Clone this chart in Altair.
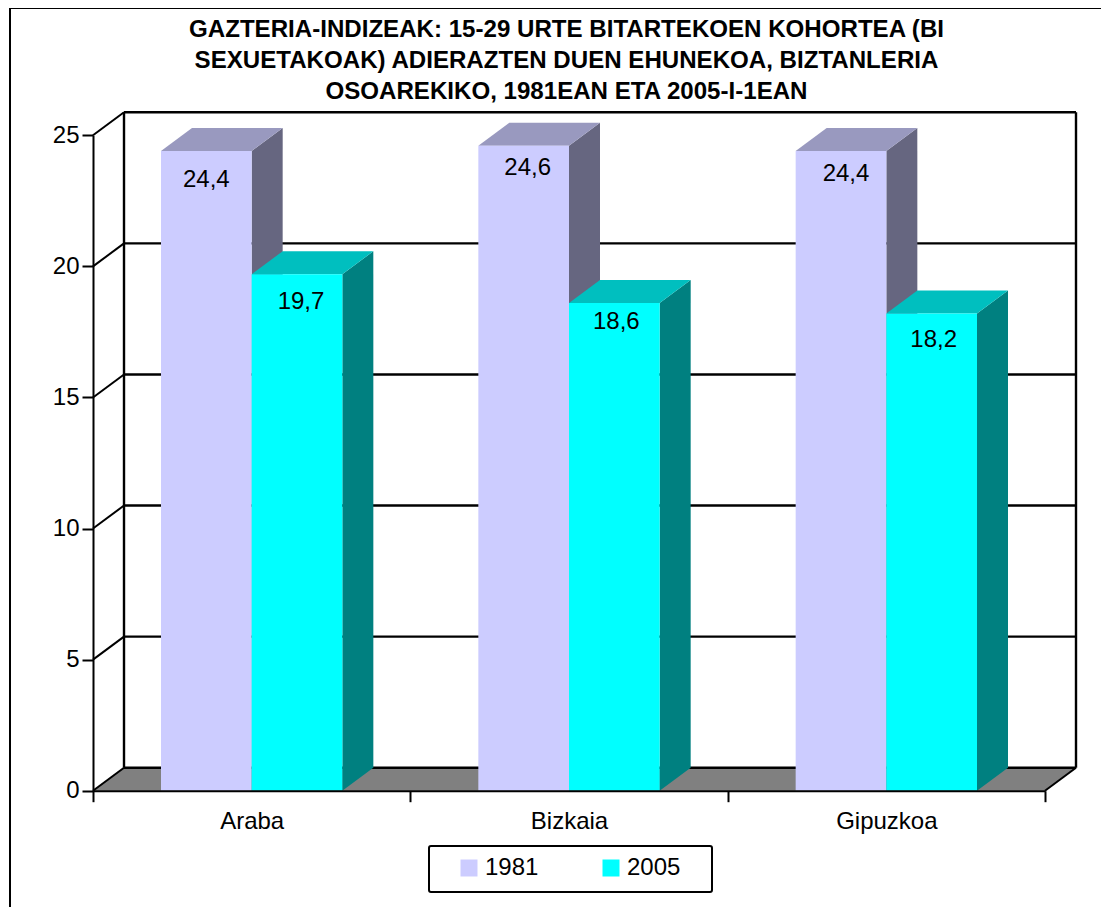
import altair as alt
import pandas as pd

# ---- values ----
CATEGORIES = ["Araba", "Bizkaia", "Gipuzkoa"]
YEARS = ["1981", "2005"]
VALUES_1981 = [24.4, 24.6, 24.4]
VALUES_2005 = [19.7, 18.6, 18.2]
Y_TICKS = [0, 5, 10, 15, 20, 25]
TITLE_LINES = [
    "GAZTERIA-INDIZEAK: 15-29 URTE BITARTEKOEN KOHORTEA (BI",
    "SEXUETAKOAK) ADIERAZTEN DUEN EHUNEKOA, BIZTANLERIA",
    "OSOAREKIKO, 1981EAN ETA 2005-I-1EAN",
]
FONT = "Liberation Sans"
FRONT = ["#CCCCFF", "#00FFFF"]
TOP = ["#9999BF", "#00BFBF"]
SIDE = ["#666680", "#008080"]

# ---- layout ----
W, H = 1093, 899
X0, X3 = 85, 1037
Y0, Y25 = 782.7, 127.3
DX, DY = 0.0977, 0.878      # depth of the 3-D box in data units
BAR = 1 / 3.5
GAP = 0.5 - BAR
LABEL_NUDGE = {  # (dx, dy) px of each data label from the bar's top centre
    "1981": [(0, 29), (4, 22), (5, 23)],
    "2005": [(4, 28), (2, 19), (2, 26)],
}
FS = 24

xs = alt.Scale(domain=[0, 3], range=[X0, X3], nice=False, zero=False)
ys = alt.Scale(domain=[0, 25], range=[Y0, Y25], nice=False, zero=False)

cat_expr = "[" + ",".join(f"'{c}'" for c in CATEGORIES) + "][floor(datum.value)]"
AX_X = alt.Axis(
    values=[0, 0.5, 1, 1.5, 2, 2.5, 3],
    labelExpr=f"datum.value % 1 == 0 ? '' : {cat_expr}",
    tickOpacity={"condition": {"test": "datum.value % 1 == 0", "value": 1}, "value": 0},
    tickSize=11,
    tickWidth=2,
    tickColor="black",
    domainColor="black",
    domainWidth=2,
    labelFont=FONT,
    labelFontSize=FS,
    labelColor="black",
    labelPadding=8,
    offset=-(H - Y0),
    grid=False,
    zindex=1,
    labelOverlap=False,
    labelFlush=False,
)
AX_Y = alt.Axis(
    values=Y_TICKS,
    tickSize=11,
    tickWidth=2,
    tickColor="black",
    domainColor="black",
    domainWidth=2,
    labelFont=FONT,
    labelFontSize=FS,
    labelColor="black",
    labelPadding=3,
    offset=-X0,
    grid=False,
    zindex=1,
)


def X(f="x"):
    return alt.X(f"{f}:Q", scale=xs, axis=AX_X, title=None)


def Y(f="y"):
    return alt.Y(f"{f}:Q", scale=ys, axis=AX_Y, title=None)


def rule(rows, width=2):
    df = pd.DataFrame(rows, columns=["x", "x2", "y", "y2", "id"])
    return (
        alt.Chart(df)
        .mark_rule(color="black", strokeWidth=width)
        .encode(x=X(), x2="x2:Q", y=Y(), y2="y2:Q")
    )


# floor
floor = pd.DataFrame(
    {"x": [0, DX, 3, 3 + DX], "y": [0, DY, DY, DY], "y2": [0, 0, 0, DY]}
)
layers = [
    alt.Chart(floor)
    .mark_area(color="#808080", orient="vertical", opacity=1)
    .encode(x=X(), y=Y(), y2="y2:Q")
]

# walls and grid lines
back = [(DX, 3 + DX, t + DY, t + DY, t) for t in Y_TICKS]
left = [(0, DX, t, t + DY, t) for t in Y_TICKS]
verts = [
    (DX, DX, DY, 25 + DY, 0),
    (3 + DX, 3 + DX, DY, 25 + DY, 1),
]
floor_edge = [(3, 3 + DX, 0, DY, 2)]
layers += [rule(back, 2.4), rule(left), rule(verts, 2.4), rule(floor_edge)]

# bars
for s, (year, vals) in enumerate(zip(YEARS, [VALUES_1981, VALUES_2005])):
    side_rows, top_rows, front_rows = [], [], []
    for i, v in enumerate(vals):
        x0 = i + GAP + s * BAR
        x1 = x0 + BAR
        side_rows += [
            dict(x=x1, y=v, y2=0, bar=i),
            dict(x=x1 + DX, y=v + DY, y2=DY, bar=i),
        ]
        top_rows += [
            dict(x=x0, y=v, y2=v, bar=i),
            dict(x=x0 + DX, y=v + DY, y2=v, bar=i),
            dict(x=x1, y=v + DY, y2=v, bar=i),
            dict(x=x1 + DX, y=v + DY, y2=v + DY, bar=i),
        ]
        front_rows.append(dict(x=x0, x2=x1, y=v, y2=0, year=year))
    layers.append(
        alt.Chart(pd.DataFrame(side_rows))
        .mark_area(color=SIDE[s], orient="vertical", opacity=1)
        .encode(x=X(), y=Y(), y2="y2:Q", detail="bar:N")
    )
    layers.append(
        alt.Chart(pd.DataFrame(top_rows))
        .mark_area(color=TOP[s], orient="vertical", opacity=1)
        .encode(x=X(), y=Y(), y2="y2:Q", detail="bar:N")
    )
    layers.append(
        alt.Chart(pd.DataFrame(front_rows))
        .mark_rect(opacity=1)
        .encode(
            x=X(),
            x2="x2:Q",
            y=Y(),
            y2="y2:Q",
            color=alt.Color(
                "year:N",
                scale=alt.Scale(domain=YEARS, range=FRONT),
                legend=alt.Legend(
                    title=None,
                    orient="none",
                    legendX=449,
                    legendY=848,
                    direction="horizontal",
                    symbolType="square",
                    symbolSize=289,
                    symbolStrokeWidth=0,
                    symbolOpacity=1,
                    labelFont=FONT,
                    labelFontSize=FS,
                    labelColor="black",
                    padding=0,
                    columnPadding=60,
                    labelOffset=4,
                ),
            ),
        )
    )
    # data labels
    for i, v in enumerate(vals):
        dx, dy = LABEL_NUDGE[year][i]
        lab = pd.DataFrame(
            [dict(x=i + GAP + s * BAR + BAR / 2, y=v, t=f"{v:.1f}".replace(".", ","))]
        )
        layers.append(
            alt.Chart(lab)
            .mark_text(
                font=FONT,
                fontSize=FS,
                color="black",
                align="center",
                baseline="middle",
                dx=dx,
                dy=dy,
            )
            .encode(x=X(), y=Y(), text="t:N")
        )

# outer frame of the chart and box of the legend
one = pd.DataFrame({"a": [0]})
layers += [
    alt.Chart(one).mark_rule(color="black", strokeWidth=2).encode(
        x=alt.value(2), y=alt.value(0), y2=alt.value(H)
    ),
    alt.Chart(one).mark_rule(color="black", strokeWidth=2).encode(
        y=alt.value(0), x=alt.value(2), x2=alt.value(W)
    ),
    alt.Chart(one).mark_rect(fill="white", stroke="black", strokeWidth=2, cornerRadius=2).encode(
        x=alt.value(421), x2=alt.value(704), y=alt.value(838), y2=alt.value(884)
    ),
]

chart = (
    alt.layer(*layers)
    .resolve_scale(x="shared", y="shared", color="shared")
    .properties(
        width=W,
        height=H,
        padding=0,
        autosize=alt.AutoSizeParams(type="none"),
        background="white",
        title=alt.TitleParams(
            text=TITLE_LINES,
            font=FONT,
            fontSize=24.1,
            fontWeight="bold",
            color="black",
            anchor="middle",
            frame="group",
            baseline="top",
            lineHeight=31,
            offset=0,
            dx=12,
            dy=97,
        ),
    )
    .configure_view(stroke=None)
)

chart.save("out.html", embed_options={"renderer": "svg", "actions": False})
